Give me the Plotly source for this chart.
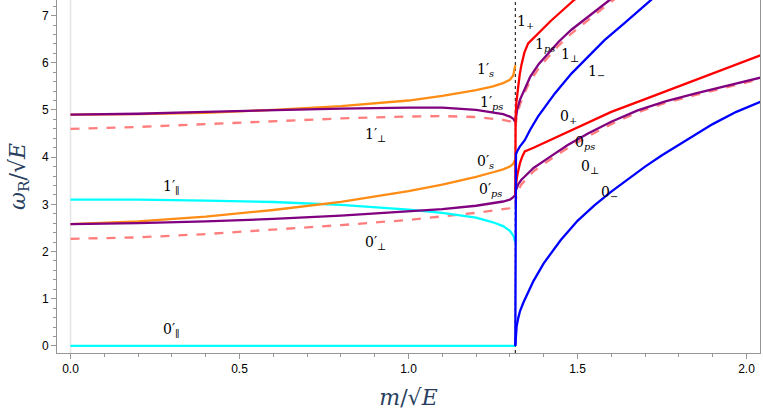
import plotly.graph_objects as go

XC = 1.316
xl = [0, 0.2, 0.4, 0.6, 0.8, 1.0, 1.1, 1.2, 1.25, 1.28, 1.3, 1.31, 1.316]
s1p = [4.9, 4.91, 4.94, 5.0, 5.08, 5.2, 5.3, 5.42, 5.5, 5.57, 5.64, 5.73, 5.95]
ps1p = [4.9, 4.92, 4.96, 5.0, 5.03, 5.05, 5.05, 5.0, 4.95, 4.91, 4.86, 4.81, 4.75]
pe1p = [4.6, 4.64, 4.7, 4.76, 4.82, 4.86, 4.87, 4.85, 4.82, 4.79, 4.76, 4.71, 4.66]
s0p = [2.58, 2.64, 2.74, 2.88, 3.05, 3.28, 3.42, 3.58, 3.68, 3.74, 3.8, 3.86, 3.95]
ps0p = [2.58, 2.6, 2.64, 2.69, 2.76, 2.85, 2.9, 2.97, 3.02, 3.06, 3.1, 3.15, 3.2]
pe0p = [2.27, 2.3, 2.37, 2.46, 2.56, 2.67, 2.74, 2.82, 2.87, 2.9, 2.92, 2.95, 2.98]
par1p = [3.1, 3.1, 3.08, 3.05, 2.99, 2.89, 2.82, 2.72, 2.62, 2.54, 2.44, 2.34, 2.2]
par0p = [0] * len(xl)

x_0m = [1.316, 1.317, 1.32, 1.325, 1.33, 1.34, 1.35, 1.37, 1.4, 1.45, 1.5, 1.55, 1.6, 1.65, 1.7, 1.75, 1.8, 1.85, 1.9, 1.97, 2.05]
y_0m = [0, 0.2, 0.42, 0.6, 0.74, 0.92, 1.08, 1.38, 1.75, 2.24, 2.65, 2.98, 3.27, 3.54, 3.8, 4.04, 4.26, 4.48, 4.7, 4.96, 5.2]
x_1m = [1.316, 1.316, 1.318, 1.322, 1.33, 1.344, 1.36, 1.383, 1.41, 1.433, 1.482, 1.531, 1.58, 1.639, 1.717, 1.74]
y_1m = [0, 4.0, 4.06, 4.13, 4.23, 4.36, 4.58, 4.86, 5.13, 5.35, 5.77, 6.13, 6.48, 6.84, 7.33, 7.47]
x_1p = [1.316, 1.316, 1.317, 1.319, 1.324, 1.329, 1.334, 1.343, 1.354, 1.42, 1.49, 1.52]
y_1p = [3.18, 4.5, 4.85, 5.15, 5.5, 5.75, 5.95, 6.22, 6.41, 6.88, 7.33, 7.5]
x_0p = [1.316, 1.318, 1.322, 1.326, 1.33, 1.337, 1.344, 1.37, 1.4, 1.44, 1.482, 1.54, 1.6, 1.7, 1.8, 1.9, 2.05]
y_0p = [3.18, 3.42, 3.62, 3.76, 3.88, 4.02, 4.12, 4.2, 4.3, 4.44, 4.58, 4.77, 4.96, 5.23, 5.5, 5.77, 6.18]
x_1ps = [1.316, 1.318, 1.322, 1.33, 1.345, 1.36, 1.385, 1.413, 1.445, 1.482, 1.54, 1.595, 1.62]
y_1ps = [4.75, 4.88, 5.02, 5.22, 5.48, 5.7, 5.97, 6.2, 6.45, 6.7, 7.03, 7.33, 7.45]
y_1pe = [4.65, 4.78, 4.92, 5.12, 5.39, 5.61, 5.88, 6.12, 6.37, 6.62, 6.96, 7.27, 7.4]
x_0ps = [1.316, 1.318, 1.325, 1.334, 1.344, 1.37, 1.413, 1.47, 1.531, 1.6, 1.678, 1.76, 1.85, 1.95, 2.05]
y_0ps = [3.2, 3.3, 3.43, 3.52, 3.59, 3.77, 3.98, 4.25, 4.5, 4.75, 4.99, 5.18, 5.35, 5.53, 5.7]
y_0pe = [2.98, 3.12, 3.3, 3.42, 3.5, 3.7, 3.92, 4.19, 4.44, 4.7, 4.95, 5.15, 5.32, 5.5, 5.67]

ORANGE = "rgb(255,140,20)"
PURPLE = "rgb(128,0,128)"
SALMON = "rgb(255,125,125)"
CYAN = "rgb(0,255,255)"
RED = "rgb(255,0,0)"
BLUE = "rgb(0,0,255)"

fig = go.Figure()
fig.add_trace(go.Scatter(x=[XC, XC], y=[-0.15, 7.35], mode="lines",
                         line=dict(color="black", width=1, dash="dot")))
fig.add_trace(go.Scatter(x=[0, 0], y=[-0.15, 7.35], mode="lines",
                         line=dict(color="rgb(228,228,228)", width=1.5)))

def add(x, y, c, dash="solid"):
    fig.add_trace(go.Scatter(x=x, y=y, mode="lines", line=dict(color=c, width=2.3, dash=dash)))

add(xl, pe1p, SALMON, "dash")
add(xl, pe0p, SALMON, "dash")
add(x_1ps, y_1pe, SALMON, "dash")
add(x_0ps, y_0pe, SALMON, "dash")
add(xl, par1p, CYAN)
add(xl, par0p, CYAN)
add(xl, s1p, ORANGE)
add(xl, s0p, ORANGE)
add(xl, ps1p, PURPLE)
add(xl, ps0p, PURPLE)
add(x_1ps, y_1ps, PURPLE)
add(x_0ps, y_0ps, PURPLE)
add(x_1p, y_1p, RED)
add(x_0p, y_0p, RED)
add(x_1m, y_1m, BLUE)
add(x_0m, y_0m, BLUE)

labels = [
    (1.345, 6.86, "1<sub>+</sub>"), (1.404, 6.38, "1<sub><i>ps</i></sub>"),
    (1.478, 6.17, "1<sub>⊥</sub>"), (1.555, 5.8, "1<sub>−</sub>"),
    (1.472, 4.85, "0<sub>+</sub>"), (1.522, 4.3, "0<sub><i>ps</i></sub>"),
    (1.537, 3.8, "0<sub>⊥</sub>"), (1.596, 3.24, "0<sub>−</sub>"),
    (1.227, 5.85, "1′<sub><i>s</i></sub>"), (1.245, 5.15, "1′<sub><i>ps</i></sub>"),
    (0.902, 4.47, "1′<sub>⊥</sub>"), (1.227, 3.9, "0′<sub><i>s</i></sub>"),
    (1.242, 3.3, "0′<sub><i>ps</i></sub>"), (0.298, 3.37, "1′<sub>∥</sub>"),
    (0.902, 2.18, "0′<sub>⊥</sub>"), (0.298, 0.34, "0′<sub>∥</sub>"),
]
for x, y, t in labels:
    fig.add_annotation(x=x, y=y, text=t, showarrow=False,
                       font=dict(family="DejaVu Serif", size=14, color="black"))

ax = dict(showgrid=False, zeroline=False, showline=True, linecolor="rgb(150,150,150)",
          mirror=True, ticks="outside", ticklen=5, tickcolor="rgb(150,150,150)", automargin=False,
          tickfont=dict(family="Liberation Sans", size=12, color="black"))
fig.update_layout(
    width=763, height=417, showlegend=False,
    plot_bgcolor="white", paper_bgcolor="white",
    margin=dict(l=57, r=3, t=0, b=64),
    xaxis=dict(range=[-0.04, 2.04], tickvals=[0, 0.5, 1.0, 1.5, 2.0],
               ticktext=["0.0", "0.5", "1.0", "1.5", "2.0"],
               minor=dict(dtick=0.1, ticks="outside", ticklen=3, tickcolor="rgb(150,150,150)"),
               title=dict(text="<i>m</i>/√<i>E</i>", font=dict(family="DejaVu Serif", size=22), standoff=14), **ax),
    yaxis=dict(range=[-0.15, 7.33], dtick=1,
               minor=dict(dtick=0.2, ticks="outside", ticklen=3, tickcolor="rgb(150,150,150)"),
               title=dict(text="<i>ω</i><sub>R</sub>/√<i>E</i>", font=dict(family="DejaVu Serif", size=22), standoff=10), **ax),
)
fig.write_html("out.html", config={"displayModeBar": False})
with open("out.html", encoding="utf-8") as f:
    html = f.read()
html = html.replace("<head>", "<head><style>html,body{margin:0;padding:0;overflow:hidden}</style>", 1)
with open("out.html", "w", encoding="utf-8") as f:
    f.write(html)
